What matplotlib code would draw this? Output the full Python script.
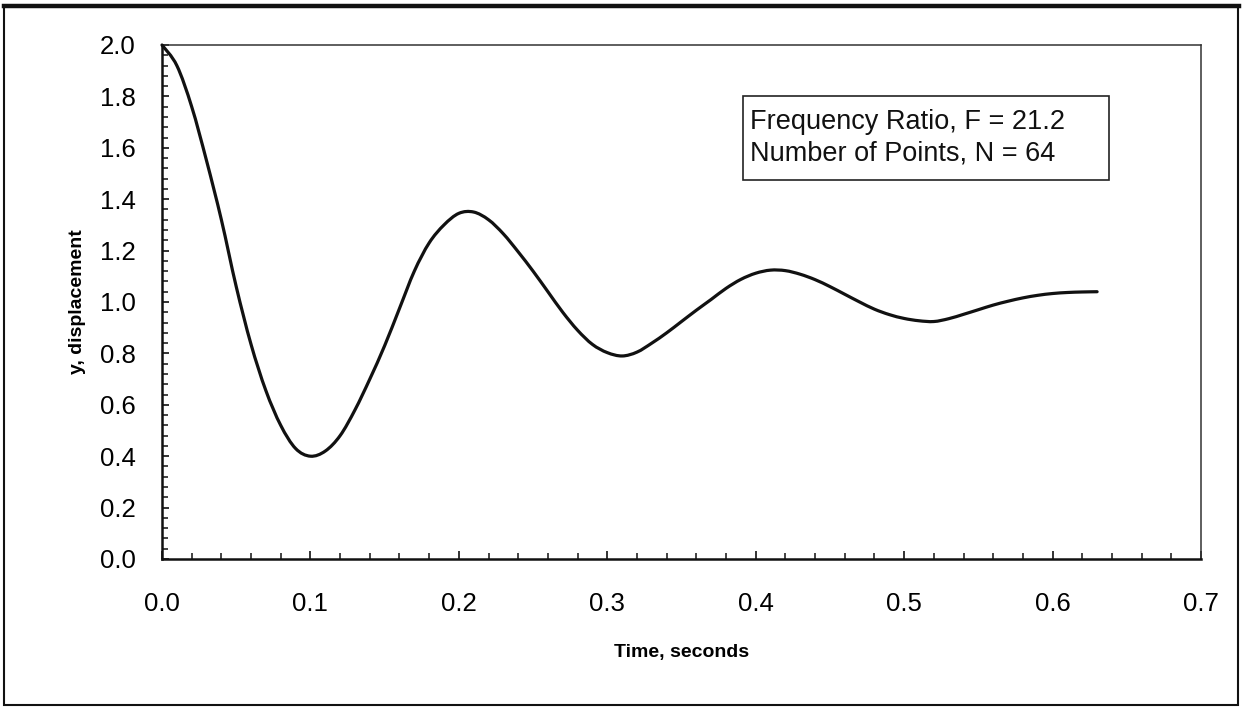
import matplotlib
matplotlib.use("Agg")
import matplotlib.pyplot as plt
from matplotlib.patches import Rectangle, PathPatch
from matplotlib.path import Path
from matplotlib.lines import Line2D
from matplotlib.ticker import MultipleLocator, FormatStrFormatter

plt.rcParams['font.family'] = ['Liberation Sans', 'DejaVu Sans']

# Sampled response, 64 points at 0.01 s spacing
time_s = [0.00, 0.01, 0.02, 0.03, 0.04, 0.05, 0.06, 0.07, 0.08, 0.09,
          0.10, 0.11, 0.12, 0.13, 0.14, 0.15, 0.16, 0.17, 0.18, 0.19,
          0.20, 0.21, 0.22, 0.23, 0.24, 0.25, 0.26, 0.27, 0.28, 0.29,
          0.30, 0.31, 0.32, 0.33, 0.34, 0.35, 0.36, 0.37, 0.38, 0.39,
          0.40, 0.41, 0.42, 0.43, 0.44, 0.45, 0.46, 0.47, 0.48, 0.49,
          0.50, 0.51, 0.52, 0.53, 0.54, 0.55, 0.56, 0.57, 0.58, 0.59,
          0.60, 0.61, 0.62, 0.63]
displacement = [2.000, 1.920, 1.760, 1.550, 1.320, 1.060, 0.835, 0.655, 0.520, 0.430,
                0.400, 0.420, 0.480, 0.580, 0.700, 0.830, 0.975, 1.120, 1.230, 1.300,
                1.345, 1.350, 1.320, 1.265, 1.195, 1.120, 1.040, 0.960, 0.890, 0.835,
                0.803, 0.790, 0.805, 0.840, 0.880, 0.924, 0.968, 1.010, 1.053, 1.088,
                1.112, 1.124, 1.122, 1.108, 1.087, 1.060, 1.030, 1.000, 0.972, 0.951,
                0.936, 0.927, 0.924, 0.935, 0.952, 0.970, 0.988, 1.003, 1.016, 1.026,
                1.033, 1.037, 1.039, 1.040]

info_lines = ["Frequency Ratio, F = 21.2", "Number of Points, N = 64"]


def smooth_path(xs, ys):
    """Cubic Bezier path through every sample (spreadsheet-style smoothed line)."""
    n = len(xs)
    verts = [(xs[0], ys[0])]
    codes = [Path.MOVETO]
    for i in range(n - 1):
        i0, i2, i3 = max(i - 1, 0), i + 1, min(i + 2, n - 1)
        c1 = (xs[i] + (xs[i2] - xs[i0]) / 6.0, ys[i] + (ys[i2] - ys[i0]) / 6.0)
        c2 = (xs[i2] - (xs[i3] - xs[i]) / 6.0, ys[i2] - (ys[i3] - ys[i]) / 6.0)
        verts += [c1, c2, (xs[i2], ys[i2])]
        codes += [Path.CURVE4] * 3
    return Path(verts, codes)


W, H = 1244, 709
fig = plt.figure(figsize=(W / 100, H / 100), dpi=100)
fig.patch.set_facecolor('white')

# axes placed in pixel terms
left_px, right_px, top_px, bottom_px = 162, 1201, 45, 559
ax = fig.add_axes([left_px / W, 1 - bottom_px / H,
                   (right_px - left_px) / W, (bottom_px - top_px) / H])

ax.add_patch(PathPatch(smooth_path(time_s, displacement), facecolor='none',
                       edgecolor='#111111', lw=2.3, clip_on=False,
                       joinstyle='round', capstyle='round', zorder=3))

ax.set_xlim(0.0, 0.7)
ax.set_ylim(0.0, 2.0)
ax.xaxis.set_major_locator(MultipleLocator(0.1))
ax.xaxis.set_minor_locator(MultipleLocator(0.02))
ax.yaxis.set_major_locator(MultipleLocator(0.2))
ax.yaxis.set_minor_locator(MultipleLocator(0.04))
ax.xaxis.set_major_formatter(FormatStrFormatter('%.1f'))
ax.yaxis.set_major_formatter(FormatStrFormatter('%.1f'))

ax.tick_params(axis='both', which='both', direction='in', color='#111111',
               top=False, right=False)
ax.tick_params(axis='x', which='major', length=5.5, width=1.2, pad=24, labelsize=18.5)
ax.tick_params(axis='x', which='minor', length=4, width=1.1)
ax.tick_params(axis='y', which='major', length=5, width=1.2, pad=19, labelsize=18.5)
ax.tick_params(axis='y', which='minor', length=4.5, width=1.1)

for side in ('left', 'bottom'):
    ax.spines[side].set_linewidth(1.8)
    ax.spines[side].set_color('#111111')
for side in ('top', 'right'):
    ax.spines[side].set_linewidth(1.1)
    ax.spines[side].set_color('#333333')

ax.set_xlabel("Time, seconds", fontsize=14, fontweight='bold')
ax.xaxis.label.set_va('center')
ax.xaxis.set_label_coords(0.5, (bottom_px - 652) / (bottom_px - top_px))
ax.set_ylabel("y, displacement", fontsize=14, fontweight='bold')
ax.yaxis.label.set_va('center')
ax.yaxis.set_label_coords((78 - left_px) / (right_px - left_px), 0.5)


def ax_x(px):
    return (px - left_px) / (right_px - left_px)


def ax_y(py):
    return (bottom_px - py) / (bottom_px - top_px)


# annotation box
bx0, bx1, by0, by1 = 743, 1109, 96, 180
ax.add_patch(Rectangle((ax_x(bx0), ax_y(by1)), ax_x(bx1) - ax_x(bx0),
                       ax_y(by0) - ax_y(by1), transform=ax.transAxes,
                       facecolor='white', edgecolor='#222222', lw=1.2, zorder=4))
for line, py in zip(info_lines, (122, 154)):
    ax.text(ax_x(750), ax_y(py), line, transform=ax.transAxes, ha='left',
            va='center', fontsize=19.5, color='#111111', zorder=5)

# outer frame of the figure
fig.add_artist(Rectangle((4 / W, 1 - 705 / H), (1238 - 4) / W, (705 - 6) / H,
                         transform=fig.transFigure, fill=False,
                         edgecolor='#111111', lw=1.5))
fig.add_artist(Line2D([4 / W, 1239 / W], [1 - 6 / H, 1 - 6 / H],
                      transform=fig.transFigure, color='#111111', lw=3.2))

fig.savefig("out.png", dpi=100, facecolor='white')
